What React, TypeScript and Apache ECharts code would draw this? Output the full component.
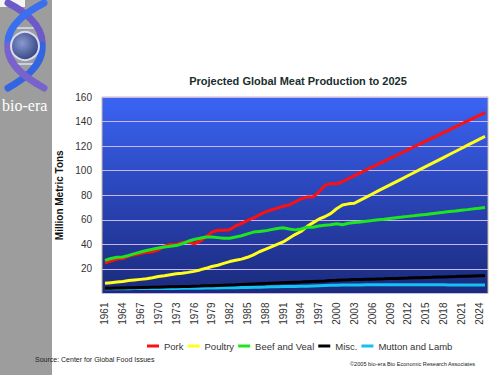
import React, { useEffect, useRef } from "react";
import * as echarts from "echarts";

const years: string[] = [];
for (let y = 1961; y <= 2025; y++) years.push(String(y));

const pork = [
  24.7, 26.5, 28, 28.5, 30.5, 31.5, 32.5, 33.5, 34, 35.5,
  38.5, 40, 40, 41.5, 42, 40.5, 42.5, 46, 50, 51.5,
  51.5, 52, 55, 57, 59.5, 61.5, 64, 66.5, 68, 69.5,
  71, 72, 74.5, 77, 78.5, 78.5, 82.5, 88, 89.5, 89.2,
  91, 93.6, 96, 98.3, 100.6, 103, 105.3, 107.6, 110, 112.3,
  114.6, 117, 119.3, 121.6, 124, 126.3, 128.6, 131, 133.3, 135.6,
  138, 140.3, 142.6, 145, 147.3,
];
const poultry = [
  8.3, 8.8, 9.3, 9.8, 10.5, 11, 11.5, 12, 12.8, 13.8,
  14.5, 15.3, 16, 16.5, 17.2, 18, 19.2, 20.5, 22, 23,
  24.5, 26, 27, 28, 29.5, 31.5, 34, 36, 38, 40,
  42, 45, 48, 50.5, 54.5, 57.5, 60.5, 62.5, 65, 69,
  72, 73, 73.5, 76, 78.5, 81, 83.5, 86, 88.4, 90.9,
  93.4, 95.9, 98.3, 100.8, 103.3, 105.7, 108.2, 110.7, 113.2, 115.6,
  118.1, 120.6, 123, 125.5, 128,
];
const beef = [
  27, 28.5, 29.5, 29.8, 31, 32.5, 33.8, 35, 36, 37,
  37.8, 38.5, 39, 40.5, 42.5, 44, 45, 46, 46, 45.5,
  45, 45, 46, 47, 48.5, 50, 50.5, 51, 52, 53,
  53.5, 52.5, 51.8, 52.5, 54, 54, 55, 55.5, 56, 56.8,
  56, 57.2, 57.8, 58.3, 58.9, 59.4, 60, 60.5, 61.1, 61.7,
  62.2, 62.8, 63.3, 63.9, 64.4, 65, 65.6, 66.1, 66.7, 67.2,
  67.8, 68.3, 68.9, 69.4, 70,
];
const misc = [
  4.2, 4.3, 4.4, 4.5, 4.6, 4.7, 4.8, 4.9, 5.0, 5.1,
  5.3, 5.4, 5.5, 5.7, 5.8, 6.0, 6.1, 6.3, 6.4, 6.6,
  6.8, 7.0, 7.1, 7.3, 7.5, 7.7, 7.9, 8.1, 8.3, 8.5,
  8.7, 8.9, 9.1, 9.3, 9.6, 9.8, 10.0, 10.2, 10.5, 10.7,
  11.0, 11.1, 11.3, 11.4, 11.6, 11.7, 11.9, 12.0, 12.2, 12.3,
  12.5, 12.6, 12.8, 12.9, 13.1, 13.2, 13.4, 13.5, 13.7, 13.8,
  14.0, 14.1, 14.3, 14.4, 14.5,
];
const mutton = [
  3.8, 3.8, 3.9, 3.9, 3.9, 4.0, 4.0, 4.0, 4.0, 4.1,
  4.1, 4.2, 4.1, 4.2, 4.2, 4.3, 4.3, 4.4, 4.4, 4.5,
  4.6, 4.6, 4.7, 4.8, 4.9, 5.0, 5.1, 5.2, 5.4, 5.5,
  5.6, 5.7, 5.8, 5.9, 6.0, 6.2, 6.4, 6.6, 6.7, 6.8,
  6.9, 7.0, 7.0, 7.0, 7.1, 7.1, 7.1, 7.1, 7.1, 7.1,
  7.1, 7.1, 7.1, 7.1, 7.1, 7.1, 7.1, 7.1, 7.0, 7.0,
  7.0, 7.0, 7.0, 7.0, 7.0,
];

const seriesNames = ["Pork", "Poultry", "Beef and Veal", "Misc.", "Mutton and Lamb"];
const seriesColors = ["#ff1010", "#ffff1a", "#1ee61e", "#000000", "#12c2f2"];
const seriesData = [pork, poultry, beef, misc, mutton];

const FONT = "'Liberation Sans', Arial, sans-serif";

function strand(x1: number, y1: number, x2: number, y2: number, c1: number[], c2: number[], color: string) {
  return {
    type: "bezierCurve",
    shape: { x1, y1, x2, y2, cpx1: c1[0], cpy1: c1[1], cpx2: c2[0], cpy2: c2[1] },
    style: { stroke: color, lineWidth: 7, fill: "none", lineCap: "round" },
    z: 2,
  };
}

export default function App() {
  const ref = useRef<HTMLDivElement>(null);
  useEffect(() => {
    if (!ref.current) return;
    const chart = echarts.init(ref.current, null, { renderer: "svg" });
    const option: any = {
      animation: false,
      backgroundColor: "#ffffff",
      textStyle: { fontFamily: FONT },
      title: {
        text: "Projected Global Meat Production to 2025",
        left: 293,
        top: 70,
        textAlign: "center",
        textStyle: { fontSize: 11, fontWeight: "bold", color: "#1a2e2e", fontFamily: FONT },
      },
      legend: {
        top: 336,
        left: 142,
        icon: "rect",
        itemWidth: 12,
        itemHeight: 3,
        itemGap: 4,
        textStyle: { fontSize: 9.5, color: "#333", fontFamily: FONT },
        data: seriesNames,
      },
      grid: {
        left: 102,
        right: 12,
        top: 97,
        bottom: 81.5,
        show: true,
        borderColor: "#c9b99b",
        borderWidth: 1,
        backgroundColor: new echarts.graphic.LinearGradient(0, 0, 0, 1, [
          { offset: 0, color: "#3b64f4" },
          { offset: 0.5, color: "#2a45b8" },
          { offset: 1, color: "#1b2a7c" },
        ]),
      },
      xAxis: {
        type: "category",
        data: years,
        boundaryGap: true,
        axisLine: { show: false },
        axisTick: { show: false },
        axisLabel: {
          interval: 2,
          rotate: 90,
          margin: 9,
          fontSize: 10,
          color: "#333",
          fontFamily: FONT,
        },
      },
      yAxis: {
        type: "value",
        min: 0,
        max: 160,
        interval: 20,
        name: "Million Metric Tons",
        nameLocation: "middle",
        nameGap: 36,
        nameTextStyle: { fontSize: 10, fontWeight: "bold", color: "#111", fontFamily: FONT },
        axisLine: { show: false },
        axisTick: { show: false },
        axisLabel: {
          margin: 10,
          fontSize: 10,
          color: "#333",
          fontFamily: FONT,
          formatter: (v: number) => (v === 0 ? "" : String(v)),
        },
        splitLine: { lineStyle: { color: "#c8b6f0", width: 1 } },
      },
      series: seriesNames.map((name, i) => ({
        name,
        type: "line",
        data: seriesData[i],
        symbol: "none",
        z: i === 4 ? 1 : 2,
        lineStyle: { color: seriesColors[i], width: 3 },
        itemStyle: { color: seriesColors[i] },
      })),
      graphic: [
        { type: "rect", shape: { x: 0, y: 0, width: 52, height: 375 }, style: { fill: "#9d9d9d" }, z: 0 },
        { type: "rect", shape: { x: 0, y: 0, width: 25, height: 7 }, style: { fill: "#f4f4f4" }, z: 1 },
        { type: "line", shape: { x1: 12, y1: 28, x2: 40, y2: 28 }, style: { stroke: "#c8d0e8", lineWidth: 2 }, z: 1 },
        { type: "line", shape: { x1: 12, y1: 64, x2: 40, y2: 64 }, style: { stroke: "#c8d0e8", lineWidth: 2 }, z: 1 },
        strand(8, 3, 42, 45, [22, 10], [44, 25], "#6c5ac8"),
        strand(42, 45, 8, 88, [44, 66], [22, 80], "#3364e2"),
        strand(44, 3, 8, 45, [30, 10], [6, 25], "#3a70f0"),
        strand(8, 45, 44, 88, [6, 66], [30, 80], "#7a62cc"),
        {
          type: "circle",
          shape: { cx: 25, cy: 46, r: 14 },
          style: {
            fill: new echarts.graphic.RadialGradient(0.4, 0.4, 0.7, [
              { offset: 0, color: "#8a9ad0" },
              { offset: 1, color: "#2c3a78" },
            ]),
            stroke: "#d8dcf0",
            lineWidth: 2,
          },
          z: 3,
        },
        {
          type: "text",
          x: 2,
          y: 97,
          style: { text: "bio-era", fill: "#ffffff", font: "16px 'Liberation Serif', 'DejaVu Serif', serif" },
          z: 3,
        },
        {
          type: "text",
          x: 35,
          y: 356,
          style: { text: "Source: Center for Global Food Issues", fill: "#222", font: `7px ${FONT}` },
          z: 3,
        },
        {
          type: "text",
          x: 350,
          y: 361,
          style: { text: "©2005 bio-era Bio Economic Research Associates", fill: "#222", font: `5.6px ${FONT}` },
          z: 3,
        },
      ],
    };
    chart.setOption(option);
    return () => chart.dispose();
  }, []);
  return (
    <div
      ref={ref}
      style={{ position: "fixed", left: 0, top: 0, width: 500, height: 375, background: "#fff" }}
    />
  );
}
